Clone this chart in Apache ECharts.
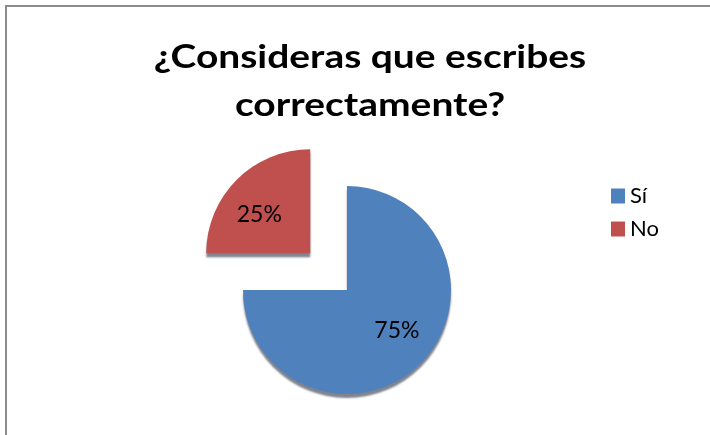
<!DOCTYPE html>
<html>
<head>
<meta charset="utf-8">
<script src="https://cdn.jsdelivr.net/npm/echarts@6/dist/echarts.min.js"></script>
<style>
html,body{margin:0;padding:0;background:#fff;}
#c{width:710px;height:435px;}
</style>
</head>
<body>
<div id="c"></div>
<script>
const titleLines = ['¿Consideras que escribes', 'correctamente?'];
const categories = ['Sí', 'No'];
const values = [75, 25];
const colors = ['#4F81BD', '#C0504D'];

const chart = echarts.init(document.getElementById('c'));
const FONT = 'Lato';
chart.setOption({
  animation: false,
  backgroundColor: '#fff',
  graphic: [
    { type: 'polyline', shape: { points: [[6, 435], [6, 6], [710, 6]] },
      style: { stroke: '#8c8c8c', lineWidth: 2, fill: null }, silent: true },
    { type: 'text', x: 370, y: 57, scaleX: 1.18,
      style: { text: titleLines[0], font: 'bold 33px ' + FONT, fill: '#000', textAlign: 'center', textVerticalAlign: 'middle' } },
    { type: 'text', x: 370, y: 105, scaleX: 1.18,
      style: { text: titleLines[1], font: 'bold 33px ' + FONT, fill: '#000', textAlign: 'center', textVerticalAlign: 'middle' } }
  ],
  legend: {
    orient: 'vertical',
    left: 606,
    top: 180,
    itemWidth: 14,
    itemHeight: 15,
    itemGap: 11,
    icon: 'rect',
    data: categories,
    textStyle: { fontFamily: FONT, fontSize: 22, color: '#000', lineHeight: 21 }
  },
  series: [{
    type: 'pie',
    center: [347, 290],
    radius: 104,
    startAngle: 90,
    clockwise: true,
    selectedMode: 'multiple',
    selectedOffset: 52,
    label: {
      position: 'inside',
      formatter: '{d}%',
      fontFamily: FONT,
      fontSize: 23,
      color: '#000'
    },
    labelLayout: function (p) {
      return p.dataIndex === 0 ? { dx: 11, dy: 2 } : { dx: -12, dy: 0 };
    },
    labelLine: { show: false },
    itemStyle: {
      shadowColor: 'rgba(20,30,50,0.55)',
      shadowBlur: 2,
      shadowOffsetY: 4
    },
    data: categories.map((n, i) => ({
      name: n,
      value: values[i],
      selected: i === 1,
      itemStyle: { color: colors[i] }
    }))
  }]
});
</script>
</body>
</html>
